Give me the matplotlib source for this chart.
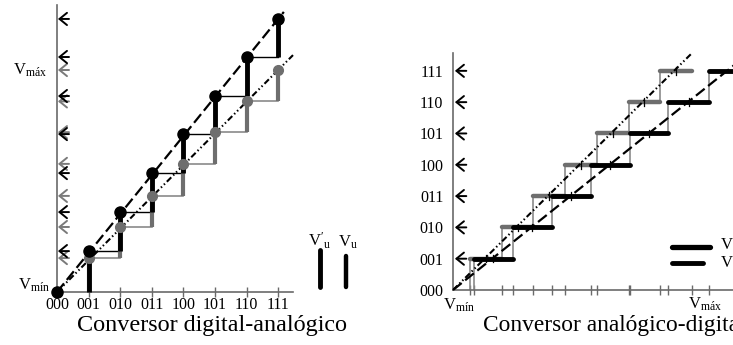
import matplotlib
matplotlib.use("Agg")
import matplotlib.pyplot as plt

plt.rcParams['font.family'] = ['Liberation Serif', 'DejaVu Serif']
plt.rcParams['mathtext.fontset'] = 'custom'
plt.rcParams['mathtext.rm'] = 'Liberation Serif'
plt.rcParams['mathtext.it'] = 'Liberation Serif:italic'

# ---------------- data ----------------
codes = ['000', '001', '010', '011', '100', '101', '110', '111']
# DAC: output level for each code (V'u black, Vu gray)
dac_vpu = [0, 1.29, 2.52, 3.75, 4.98, 6.18, 7.41, 8.61]
dac_vu = [0, 1.07, 2.05, 3.03, 4.04, 5.04, 6.01, 7.00]
# ADC: transition voltages between consecutive codes
adc_vu_trans = [0.54, 1.55, 2.52, 3.53, 4.54, 5.55, 6.53]
adc_vu_end = 7.54
adc_vpu_trans = [0.66, 1.89, 3.12, 4.35, 5.58, 6.78, 8.08]
adc_vpu_end = 9.4

BLACK = '#000000'
GRAY = '#6e6e6e'
LGRAY = '#8a8a8a'
AXC = '#6a6a6a'

W, H = 733, 345
fig = plt.figure(figsize=(W / 100, H / 100), dpi=100)


def rect(l, t, r, b):
    return [l / W, 1 - b / H, (r - l) / W, (b - t) / H]


dash = (0, (5, 2))
dashdotdot = (0, (3, 1.3, 0.7, 1.3, 0.7, 1.3))
ARROW = '->,head_length=0.27,head_width=0.22'
LBL = 12

# ================= left: DAC =================
ax1 = fig.add_axes(rect(57, 5, 293, 292))
ax1.set_xlim(0, 7.47)
ax1.set_ylim(0, 9.05)
for s in ['top', 'right']:
    ax1.spines[s].set_visible(False)
for s in ['left', 'bottom']:
    ax1.spines[s].set_color(AXC)
    ax1.spines[s].set_linewidth(1.2)
ax1.set_yticks([])
ax1.set_xticks(range(len(codes)))
ax1.set_xticklabels(codes, fontsize=11.5)
ax1.tick_params(axis='x', direction='inout', length=7, width=1, color=AXC, pad=0)
ax1.patch.set_alpha(0)

n = len(codes)
# gray staircase (Vu)
for k in range(1, n):
    ax1.plot([k, k], [dac_vu[k - 1], dac_vu[k]], color=GRAY, lw=3, solid_capstyle='butt', clip_on=False, zorder=3)
    if k < n - 1:
        ax1.plot([k, k + 1], [dac_vu[k], dac_vu[k]], color=LGRAY, lw=1.2, clip_on=False, zorder=2)
# black staircase (V'u)
for k in range(1, n):
    ax1.plot([k, k], [dac_vpu[k - 1], dac_vpu[k]], color=BLACK, lw=3.5, solid_capstyle='butt', clip_on=False, zorder=4)
    if k < n - 1:
        ax1.plot([k, k + 1], [dac_vpu[k], dac_vpu[k]], color=BLACK, lw=1.0, clip_on=False, zorder=2)

# ideal lines
s_b = dac_vpu[-1] / (n - 1)
s_g = dac_vu[-1] / (n - 1)
ax1.plot([0, 7.18], [0, 7.18 * s_b], color=BLACK, lw=1.6, linestyle=dash, zorder=5, clip_on=False)
ax1.plot([0, 7.47], [0, 7.47 * s_g], color=BLACK, lw=1.5, linestyle=dashdotdot, zorder=5, clip_on=False)

# dots
ax1.plot(range(1, n), dac_vu[1:], 'o', color=GRAY, ms=7, zorder=6, clip_on=False)
ax1.plot(range(n), dac_vpu, 'o', color=BLACK, ms=8, zorder=7, clip_on=False)

# arrows on the axis
for lv in dac_vu[1:]:
    ax1.annotate('', xy=(0.03, lv), xytext=(0.38, lv),
                 arrowprops=dict(arrowstyle=ARROW, color='#7a7a7a', lw=1.4, shrinkA=0, shrinkB=0, mutation_scale=20),
                 annotation_clip=False)
for lv in dac_vpu[1:]:
    ax1.annotate('', xy=(0.03, lv), xytext=(0.38, lv),
                 arrowprops=dict(arrowstyle=ARROW, color=BLACK, lw=1.4, shrinkA=0, shrinkB=0, mutation_scale=20),
                 annotation_clip=False)

ax1.text(-0.3, dac_vu[-1], r'$\mathrm{V_{máx}}$', fontsize=LBL, ha='right', va='center')
ax1.text(-0.22, 0.22, r'$\mathrm{V_{mín}}$', fontsize=LBL, ha='right', va='center')

# legend (vertical bars)
ax1.plot([8.32, 8.32], [0.16, 1.32], color=BLACK, lw=3.5, solid_capstyle='round', clip_on=False)
ax1.plot([9.15, 9.15], [0.16, 1.14], color=BLACK, lw=3.2, solid_capstyle='round', clip_on=False)
ax1.text(8.32, 1.3, r"$\mathrm{V'_{u}}$", fontsize=LBL, ha='center', va='bottom')
ax1.text(9.2, 1.3, r"$\mathrm{V_{u}}$", fontsize=LBL, ha='center', va='bottom')

fig.text(212 / W, 1 - 325 / H, 'Conversor digital-analógico', fontsize=17.4, ha='center', va='center')

# ================= right: ADC =================
ax2 = fig.add_axes(rect(453, 53, 745, 290))
ax2.set_xlim(0, 9.21)
ax2.set_ylim(0, 7.57)
for s in ['top', 'right']:
    ax2.spines[s].set_visible(False)
for s in ['left', 'bottom']:
    ax2.spines[s].set_color(AXC)
    ax2.spines[s].set_linewidth(1.2)
ax2.patch.set_alpha(0)
ax2.set_yticks(range(len(codes)))
ax2.set_yticklabels(codes, fontsize=11.5)
ax2.tick_params(axis='y', length=0, pad=7)
ax2.set_xticks(sorted(adc_vu_trans + adc_vpu_trans + [adc_vu_end]))
ax2.set_xticklabels([])
ax2.tick_params(axis='x', direction='inout', length=7, width=1, color=AXC)

# staircases
g_edges = adc_vu_trans + [adc_vu_end]
b_edges = adc_vpu_trans + [adc_vpu_end]
for k in range(1, n):
    ax2.plot([g_edges[k - 1]] * 2, [k - 1, k], color=LGRAY, lw=1.2, zorder=2)
    ax2.plot([b_edges[k - 1]] * 2, [k - 1, k], color=LGRAY, lw=1.2, zorder=2)
for k in range(1, n):
    ax2.plot([g_edges[k - 1], g_edges[k]], [k, k], color=GRAY, lw=3.2, solid_capstyle='round', zorder=3)
for k in range(1, n):
    ax2.plot([b_edges[k - 1], b_edges[k]], [k, k], color=BLACK, lw=3.5, solid_capstyle='round', zorder=4, clip_on=False)

# small center ticks on each step
for k in range(1, n):
    cg = (g_edges[k - 1] + g_edges[k]) / 2
    ax2.plot([cg, cg], [k - 0.12, k + 0.12], color=BLACK, lw=0.9, zorder=6)
    cb = (b_edges[k - 1] + b_edges[k]) / 2
    if k < n - 1:
        ax2.plot([cb, cb], [k - 0.12, k + 0.12], color=BLACK, lw=0.9, zorder=6)

# ideal lines
ax2.plot([0, adc_vu_end], [0, 7.57], color=BLACK, lw=1.5, linestyle=dashdotdot, zorder=5)
ax2.plot([0, 9.3], [0, 9.3 * 0.81], color=BLACK, lw=1.6, linestyle=dash, zorder=5, clip_on=False)

for k in range(1, n):
    ax2.annotate('', xy=(0.06, k), xytext=(0.42, k),
                 arrowprops=dict(arrowstyle=ARROW, color=BLACK, lw=1.4, shrinkA=0, shrinkB=0, mutation_scale=20),
                 annotation_clip=False)

ax2.text(0.2, -0.5, r'$\mathrm{V_{mín}}$', fontsize=LBL, ha='center', va='center')
ax2.text(7.95, -0.47, r'$\mathrm{V_{máx}}$', fontsize=LBL, ha='center', va='center')

# legend
ax2.plot([6.91, 8.11], [1.37, 1.37], color=BLACK, lw=3.8, solid_capstyle='round', clip_on=False)
ax2.plot([6.91, 7.89], [0.86, 0.86], color=BLACK, lw=3.5, solid_capstyle='round', clip_on=False)
ax2.text(8.42, 1.43, r"$\mathrm{V'_{u}}$", fontsize=LBL, ha='left', va='center')
ax2.text(8.42, 0.86, r"$\mathrm{V_{u}}$", fontsize=LBL, ha='left', va='center')

fig.text(483 / W, 1 - 325 / H, 'Conversor analógico-digital', fontsize=16.8, ha='left', va='center')

fig.savefig('out.png', dpi=100)
